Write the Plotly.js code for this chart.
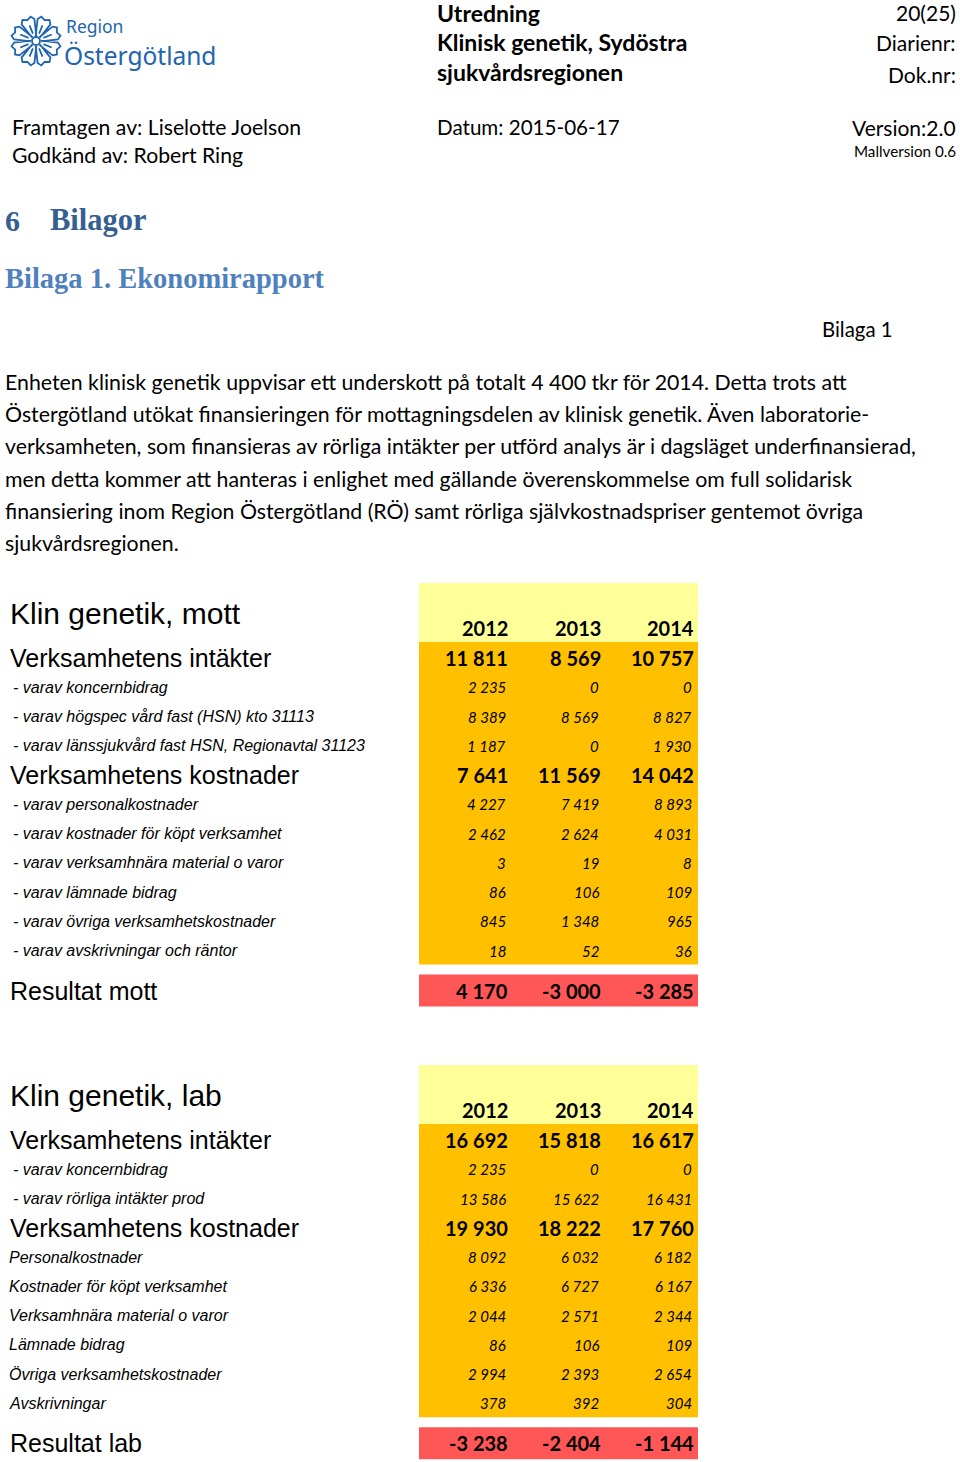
<!DOCTYPE html>
<html>
<head>
<meta charset="utf-8">
<script src="https://cdn.plot.ly/plotly-3.0.1.min.js"></script>
<style>html,body{margin:0;padding:0;background:#fff;}#chart{width:960px;height:1462px;}</style>
</head>
<body>
<div id="chart"></div>
<script>
// ---------- data ----------
const years = ['2012', '2013', '2014'];

// Klin genetik, mott
const mottLabels = [
  'Verksamhetens intäkter',
  '- varav koncernbidrag',
  '- varav högspec vård fast (HSN) kto 31113',
  '- varav länssjukvård fast HSN, Regionavtal 31123',
  'Verksamhetens kostnader',
  '- varav personalkostnader',
  '- varav kostnader för köpt verksamhet',
  '- varav verksamhnära material o varor',
  '- varav lämnade bidrag',
  '- varav övriga verksamhetskostnader',
  '- varav avskrivningar och räntor'
];
const mottMain = [true, false, false, false, true, false, false, false, false, false, false];
const mottIntakter = [11811, 8569, 10757];
const mottKoncernbidrag = [2235, 0, 0];
const mottHogspec = [8389, 8569, 8827];
const mottLanssjukvard = [1187, 0, 1930];
const mottKostnader = [7641, 11569, 14042];
const mottPersonal = [4227, 7419, 8893];
const mottKoptVerksamhet = [2462, 2624, 4031];
const mottMaterial = [3, 19, 8];
const mottBidrag = [86, 106, 109];
const mottOvriga = [845, 1348, 965];
const mottAvskrivningar = [18, 52, 36];
const mottResultat = [4170, -3000, -3285];

// Klin genetik, lab
const labLabels = [
  'Verksamhetens intäkter',
  '- varav koncernbidrag',
  '- varav rörliga intäkter prod',
  'Verksamhetens kostnader',
  'Personalkostnader',
  'Kostnader för köpt verksamhet',
  'Verksamhnära material o varor',
  'Lämnade bidrag',
  'Övriga verksamhetskostnader',
  'Avskrivningar'
];
const labMain = [true, false, false, true, false, false, false, false, false, false];
const labIntakter = [16692, 15818, 16617];
const labKoncernbidrag = [2235, 0, 0];
const labRorliga = [13586, 15622, 16431];
const labKostnader = [19930, 18222, 17760];
const labPersonal = [8092, 6032, 6182];
const labKoptVerksamhet = [6336, 6727, 6167];
const labMaterial = [2044, 2571, 2344];
const labBidrag = [86, 106, 109];
const labOvriga = [2994, 2393, 2654];
const labAvskrivningar = [378, 392, 304];
const labResultat = [-3238, -2404, -1144];

const mottValues = [mottIntakter, mottKoncernbidrag, mottHogspec, mottLanssjukvard, mottKostnader,
  mottPersonal, mottKoptVerksamhet, mottMaterial, mottBidrag, mottOvriga, mottAvskrivningar];
const labValues = [labIntakter, labKoncernbidrag, labRorliga, labKostnader, labPersonal,
  labKoptVerksamhet, labMaterial, labBidrag, labOvriga, labAvskrivningar];

const paragraph = [
  'Enheten klinisk genetik uppvisar ett underskott på totalt 4 400 tkr för 2014. Detta trots att',
  'Östergötland utökat finansieringen för mottagningsdelen av klinisk genetik. Även laboratorie-',
  'verksamheten, som finansieras av rörliga intäkter per utförd analys är i dagsläget underfinansierad,',
  'men detta kommer att hanteras i enlighet med gällande överenskommelse om full solidarisk',
  'finansiering inom Region Östergötland (RÖ) samt rörliga självkostnadspriser gentemot övriga',
  'sjukvårdsregionen.'
];

// ---------- style ----------
const ARIAL = 'Liberation Sans, Arial, sans-serif';
const CAL = 'Lato, Carlito, Calibri, sans-serif';
const SERIF = 'Liberation Serif, Cambria, serif';
const YELLOW = '#FFFF99', ORANGE = '#FFC000', RED = '#FF5757';
const colRight = [508, 601, 694];
const boxX0 = 419, boxX1 = 698;
const rowStep = 29.25;

const annotations = [];
const shapes = [];

function txt(x, y, text, size, family, color, anchor) {
  annotations.push({
    x: x, y: y, xref: 'x', yref: 'y', text: text, showarrow: false,
    xanchor: anchor || 'left', yanchor: 'middle', borderpad: 0,
    font: {size: size, family: family, color: color || '#000'}
  });
}
function rect(x0, y0, x1, y1, color) {
  shapes.push({type: 'rect', xref: 'x', yref: 'y', x0: x0, x1: x1, y0: y0, y1: y1,
    fillcolor: color, line: {width: 0}, layer: 'below'});
}
function fmt(v) {
  const s = Math.abs(v).toString().replace(/\B(?=(\d{3})+(?!\d))/g, ' ');
  return (v < 0 ? '-' : '') + s;
}

// ---------- header ----------
// logo flower
(function () {
  const cx = 36, cy = 41;
  let p = '';
  for (let k = 0; k < 8; k++) {
    const a = k * Math.PI / 4 + Math.PI / 8;
    const pt = (r, da) => [(cx + r * Math.cos(a + da)).toFixed(1), (cy + r * Math.sin(a + da)).toFixed(1)];
    const b1 = pt(5, -0.45), o1 = pt(22, -0.32), f1 = pt(25, -0.18), m = pt(22.5, 0), f2 = pt(25, 0.18), o2 = pt(22, 0.32), b2 = pt(5, 0.45);
    p += `M${b1[0]},${b1[1]} L${o1[0]},${o1[1]} L${f1[0]},${f1[1]} L${m[0]},${m[1]} L${f2[0]},${f2[1]} L${o2[0]},${o2[1]} L${b2[0]},${b2[1]} `;
    const i1 = pt(8, 0), i2 = pt(17, 0);
    p += `M${i1[0]},${i1[1]} L${i2[0]},${i2[1]} `;
  }
  shapes.push({type: 'path', xref: 'x', yref: 'y', path: p, line: {color: '#2065B0', width: 1.8}});
  shapes.push({type: 'circle', xref: 'x', yref: 'y', x0: cx - 4, x1: cx + 4, y0: cy - 4, y1: cy + 4, line: {color: '#2065B0', width: 1.8}});
})();
txt(65, 26, 'Region', 17.5, 'Noto Sans, sans-serif', '#2065B0');
txt(63, 55, 'Östergötland', 24.5, 'Noto Sans, sans-serif', '#2065B0');

txt(436, 13, '<b>Utredning</b>', 23, CAL);
txt(436, 42, '<b>Klinisk genetik, Sydöstra</b>', 23, CAL);
txt(436, 72, '<b>sjukvårdsregionen</b>', 23, CAL);
txt(957, 12, '20(25)', 21, CAL, '#000', 'right');
txt(957, 42, 'Diarienr:', 21, CAL, '#000', 'right');
txt(957, 74, 'Dok.nr:', 21, CAL, '#000', 'right');
txt(11, 127, 'Framtagen av: Liselotte Joelson', 21.2, CAL);
txt(11, 155, 'Godkänd av: Robert Ring', 21.2, CAL);
txt(436, 127, 'Datum: 2015-06-17', 20.6, CAL);
txt(957, 127, 'Version:2.0', 21, CAL, '#000', 'right');
txt(957, 151, 'Mallversion 0.6', 15.2, CAL, '#000', 'right');

txt(4, 220, '<b>6</b>', 30, SERIF, '#365F91');
txt(49, 220, '<b>Bilagor</b>', 30.5, SERIF, '#365F91');
txt(4, 278, '<b>Bilaga 1. Ekonomirapport</b>', 28.5, SERIF, '#4F81BD');
txt(894, 329, 'Bilaga 1', 20.4, CAL, '#000', 'right');

paragraph.forEach((line, i) => txt(4, 382 + i * 32.2, line, 21.3, CAL));

// ---------- tables ----------
function table(title, labels, isMain, values, result, resultLabel, firstRowY) {
  const lastY = firstRowY + (labels.length - 1) * rowStep;
  const resY = lastY + 40;
  rect(boxX0, firstRowY - 75, boxX1, firstRowY - 16, YELLOW);
  rect(boxX0, firstRowY - 16, boxX1, lastY + 14, ORANGE);
  rect(boxX0, resY - 16, boxX1, resY + 16, RED);
  txt(9, firstRowY - 45, title, 30, ARIAL);
  years.forEach((yr, j) => txt(colRight[j] + 1, firstRowY - 30, '<b>' + yr + '</b>', 20, CAL, '#000', 'right'));
  labels.forEach((lab, i) => {
    const y = firstRowY + i * rowStep;
    if (isMain[i]) {
      txt(9, y, lab, 25, ARIAL);
      values[i].forEach((v, j) => txt(colRight[j] + 1, y, '<b>' + fmt(v) + '</b>', 20, CAL, '#000', 'right'));
    } else {
      txt(lab.startsWith('-') ? 12 : 8, y, '<i>' + lab + '</i>', 16, ARIAL);
      values[i].forEach((v, j) => txt(colRight[j] - 1, y, '<i>' + fmt(v) + '</i>', 15, CAL, '#000', 'right'));
    }
  });
  txt(9, resY, resultLabel, 25, ARIAL);
  result.forEach((v, j) => txt(colRight[j] + 1, resY, '<b>' + fmt(v) + '</b>', 20, CAL, '#000', 'right'));
}

table('Klin genetik, mott', mottLabels, mottMain, mottValues, mottResultat, 'Resultat mott', 658);
table('Klin genetik, lab', labLabels, labMain, labValues, labResultat, 'Resultat lab', 1140);

const layout = {
  width: 960, height: 1462,
  margin: {l: 0, r: 0, t: 0, b: 0},
  paper_bgcolor: '#fff', plot_bgcolor: '#fff',
  showlegend: false,
  xaxis: {range: [0, 960], visible: false, fixedrange: true},
  yaxis: {range: [1462, 0], visible: false, fixedrange: true},
  shapes: shapes,
  annotations: annotations
};
Plotly.newPlot('chart', [{x: [], y: [], type: 'scatter', hoverinfo: 'skip'}], layout, {staticPlot: true, displayModeBar: false});
</script>
</body>
</html>
